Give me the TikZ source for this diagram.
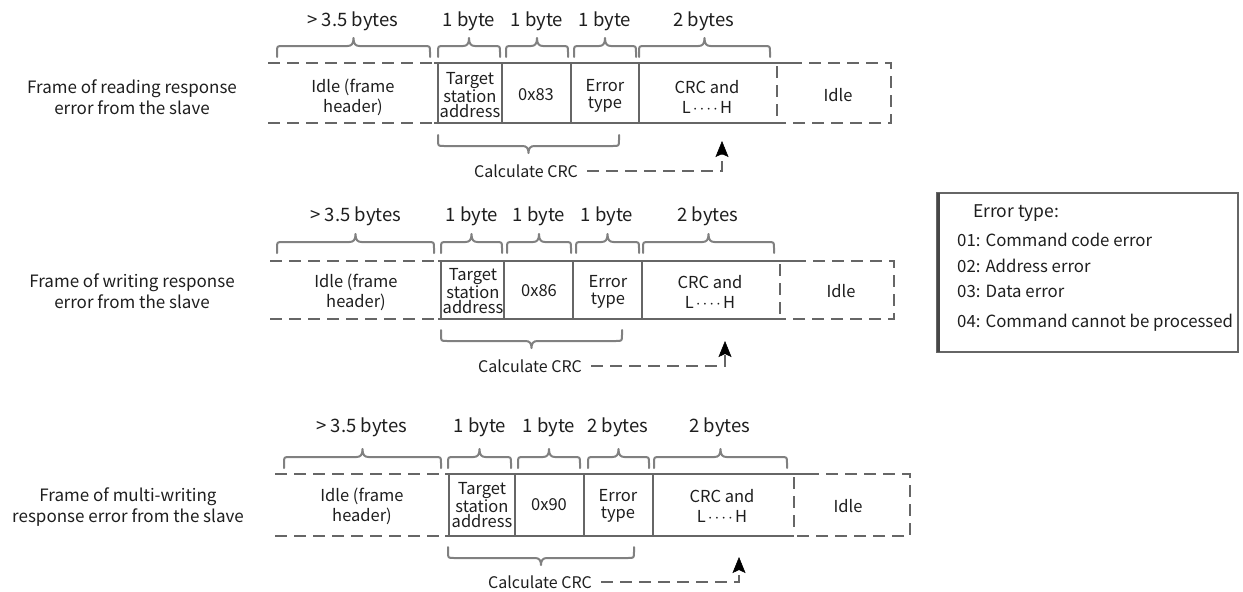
\documentclass[tikz,border=0pt]{standalone}
\usepackage{fontspec}
\setmainfont{Noto Sans CJK SC}
\usetikzlibrary{arrows.meta}
\definecolor{txt}{HTML}{1E1E1E}
\definecolor{ln}{HTML}{666666}
\definecolor{brc}{HTML}{808080}
\tikzset{
  sl/.style={draw=ln,line width=2.5pt},
  dl/.style={draw=ln,line width=2.5pt,dash pattern=on 12pt off 7pt},
  brline/.style={draw=brc,line width=2pt,line cap=round,line join=round},
  boxtxt/.style={text=txt,font=\fontsize{16.5}{15.5}\selectfont,align=center,inner sep=0pt},
  wide/.style={font=\fontsize{16.5}{20}\selectfont},
  mid/.style={font=\fontsize{16.5}{16.5}\selectfont},
  toplab/.style={text=txt,font=\fontsize{18.5}{20}\selectfont,inner sep=0pt},
  sidelab/.style={text=txt,font=\fontsize{17}{21}\selectfont,align=center,inner sep=0pt},
  crclab/.style={text=txt,font=\fontsize{16}{20}\selectfont,inner sep=0pt},
  legtitle/.style={text=txt,font=\fontsize{17.5}{20}\selectfont,inner sep=0pt,anchor=west},
  legitem/.style={text=txt,font=\fontsize{16.8}{18}\selectfont,inner sep=0pt,anchor=west},
  crcarrow/.style={draw=ln,line width=2.5pt,dash pattern=on 12pt off 7pt,
    -{Stealth[length=16pt,width=13pt,inset=3pt,color=black,fill=black,line width=0.5pt]}},
}
\newcommand\dotsLH{L\kern2pt$\cdot$\kern2pt$\cdot$\kern2pt$\cdot$\kern2pt$\cdot$\kern2ptH}
\newcommand\topbrace[3]{%
  \pgfmathsetmacro\xm{(#1+#2)/2}%
  \draw[brline] (#1,#3) -- (#1,#3-5) .. controls (#1,#3-11) .. (#1+6,#3-11) -- (\xm-6,#3-11) .. controls (\xm-2,#3-11) and (\xm,#3-13) .. (\xm,#3-19) .. controls (\xm,#3-13) and (\xm+2,#3-11) .. (\xm+6,#3-11) -- (#2-6,#3-11) .. controls (#2,#3-11) .. (#2,#3-5) -- (#2,#3);%
}
\newcommand\botbrace[3]{%
  \pgfmathsetmacro\xm{(#1+#2)/2}%
  \draw[brline] (#1,#3) -- (#1,#3+5) .. controls (#1,#3+11) .. (#1+6,#3+11) -- (\xm-6,#3+11) .. controls (\xm-2,#3+11) and (\xm,#3+13) .. (\xm,#3+18) .. controls (\xm,#3+13) and (\xm+2,#3+11) .. (\xm+6,#3+11) -- (#2-6,#3+11) .. controls (#2,#3+11) .. (#2,#3+5) -- (#2,#3);%
}
\begin{document}
\begin{tikzpicture}[x=1pt,y=-1pt]
\useasboundingbox (0,0) rectangle (1243,592);

% ================= Frame 1 =================
\node[sidelab] (lab1) at (132,97) {Frame of reading response\\error from the slave};
\draw[dl] (268,63) -- (432,63);
\draw[dl] (268,123) -- (432,123);
\draw[sl] (434,63) -- (790,63);
\draw[sl] (434,123) -- (780,123);
\foreach \x in {438,502,571,639} \draw[sl] (\x,63) -- (\x,123);
\draw[dl] (777,66) -- (777,121);
\draw[dl] (790,63) -- (891,63) -- (891,123) -- (780,123);
\topbrace{277}{430}{57}
\topbrace{438}{500}{57}
\topbrace{506}{568}{57}
\topbrace{574}{636}{57}
\topbrace{639}{770}{57}
\node[toplab] (b11) at (353,21) {> 3.5 bytes};
\node[toplab] (b12) at (469,21) {1 byte};
\node[toplab] (b13) at (537,21) {1 byte};
\node[toplab] (b14) at (605,21) {1 byte};
\node[toplab] (b15) at (704,21) {2 bytes};
\node[boxtxt,wide] (i1) at (353,97) {Idle (frame\\header)};
\node[boxtxt] (t1) at (470,95) {Target\\station\\address};
\node[boxtxt] (c1) at (536,95) {0x83};
\node[boxtxt,mid] (e1) at (605,96) {Error\\type};
\node[boxtxt,wide] (r1) at (707,97) {CRC and\\\dotsLH};
\node[boxtxt] (d1) at (838,95) {Idle};
\botbrace{438}{619}{135}
\node[crclab] (k1) at (526,171) {Calculate CRC};
\coordinate (a1) at (722,141);
\draw[crcarrow] (k1.east) ++(9,0) -| (a1);

% ================= Frame 2 =================
\node[sidelab] (lab2) at (132,291) {Frame of writing response\\error from the slave};
\draw[dl] (270,261) -- (436,261);
\draw[dl] (270,319) -- (436,319);
\draw[sl] (438,261) -- (794,261);
\draw[sl] (438,319) -- (783,319);
\foreach \x in {441,504,573,642} \draw[sl] (\x,261) -- (\x,319);
\draw[dl] (780,264) -- (780,317);
\draw[dl] (794,261) -- (894,261) -- (894,319) -- (783,319);
\topbrace{277}{434}{253}
\topbrace{441}{502}{253}
\topbrace{507}{571}{253}
\topbrace{576}{639}{253}
\topbrace{643}{774}{253}
\node[toplab] (b21) at (356,216) {> 3.5 bytes};
\node[toplab] (b22) at (472,216) {1 byte};
\node[toplab] (b23) at (539,216) {1 byte};
\node[toplab] (b24) at (607,216) {1 byte};
\node[toplab] (b25) at (708,216) {2 bytes};
\node[boxtxt,wide] (i2) at (356,292) {Idle (frame\\header)};
\node[boxtxt] (t2) at (473,291) {Target\\station\\address};
\node[boxtxt] (c2) at (539,291) {0x86};
\node[boxtxt,mid] (e2) at (608,292) {Error\\type};
\node[boxtxt,wide] (r2) at (710,292) {CRC and\\\dotsLH};
\node[boxtxt] (d2) at (841,291) {Idle};
\botbrace{441}{622}{330}
\node[crclab] (k2) at (530,366) {Calculate CRC};
\coordinate (a2) at (725,341);
\draw[crcarrow] (k2.east) ++(9,0) -| (a2);

% ================= Frame 3 =================
\node[sidelab] (lab3) at (128,507) {Frame of multi-writing\\response error from the slave};
\draw[dl] (275,474) -- (443,474);
\draw[dl] (275,536) -- (443,536);
\draw[sl] (445,474) -- (807,474);
\draw[sl] (445,536) -- (794,536);
\foreach \x in {449,515,584,653} \draw[sl] (\x,474) -- (\x,536);
\draw[dl] (794,477) -- (794,534);
\draw[dl] (807,474) -- (910,474) -- (910,536) -- (794,536);
\topbrace{284}{441}{468}
\topbrace{448}{511}{468}
\topbrace{518}{580}{468}
\topbrace{588}{649}{468}
\topbrace{654}{787}{468}
\node[toplab] (b31) at (362,427) {> 3.5 bytes};
\node[toplab] (b32) at (480,427) {1 byte};
\node[toplab] (b33) at (549,427) {1 byte};
\node[toplab] (b34) at (618,427) {2 bytes};
\node[toplab] (b35) at (720,427) {2 bytes};
\node[boxtxt,wide] (i3) at (362,506) {Idle (frame\\header)};
\node[boxtxt] (t3) at (482,505) {Target\\station\\address};
\node[boxtxt] (c3) at (549,505) {0x90};
\node[boxtxt,mid] (e3) at (618,506) {Error\\type};
\node[boxtxt,wide] (r3) at (722,506) {CRC and\\\dotsLH};
\node[boxtxt] (d3) at (848,506) {Idle};
\botbrace{448}{634}{547}
\node[crclab] (k3) at (540,582) {Calculate CRC};
\coordinate (a3) at (739,557);
\draw[crcarrow] (k3.east) ++(9,0) -| (a3);

% ================= Legend =================
\draw[draw=ln,line width=1.5pt] (937,193) rectangle (1238,352);
\draw[draw=ln!70!black,line width=3pt] (938.5,193) -- (938.5,352);
\node[legtitle] (lt) at (973,213) {Error type:};
\node[legitem] (l1) at (957,240) {01: Command code error};
\node[legitem] (l2) at (957,266) {02: Address error};
\node[legitem] (l3) at (957,291) {03: Data error};
\node[legitem] (l4) at (957,323) {04: Command cannot be processed};
\end{tikzpicture}
\end{document}
